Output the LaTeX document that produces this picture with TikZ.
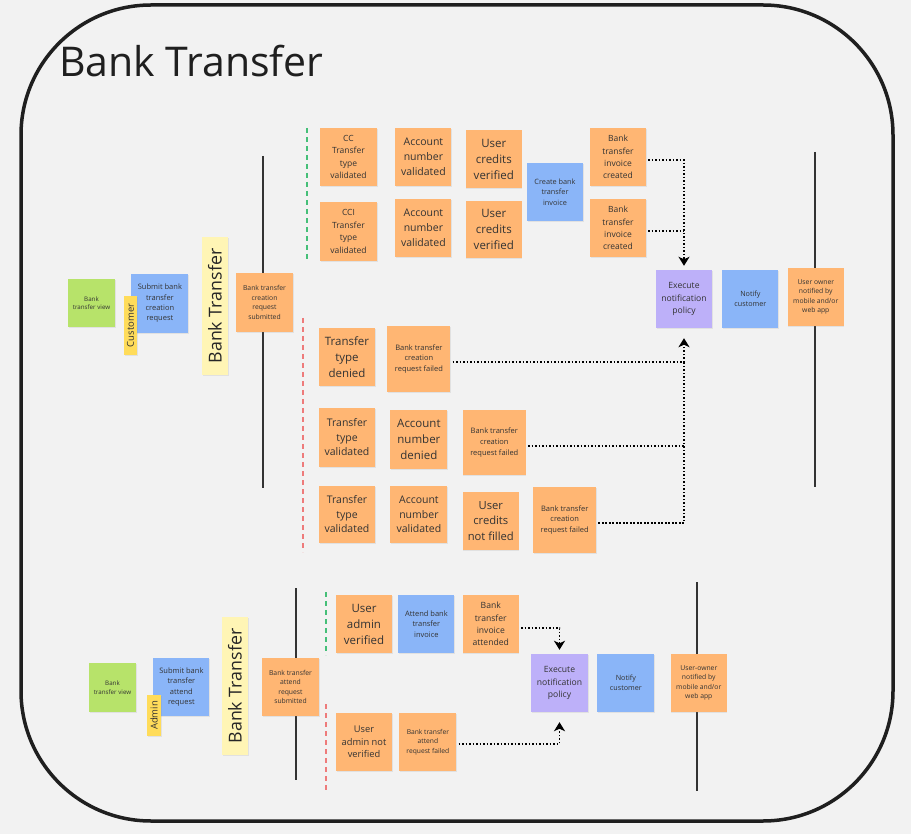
\documentclass[tikz,border=0pt]{standalone}
\usepackage{fontspec}
\setmainfont{Open Sans}
\usepackage{tikz}
\usetikzlibrary{positioning,arrows.meta,shadows}

\definecolor{boardgray}{HTML}{F2F2F2}
\definecolor{evtorange}{HTML}{FFB673}
\definecolor{cmdblue}{HTML}{8AB5F8}
\definecolor{polpurple}{HTML}{BDB0F9}
\definecolor{viewgreen}{HTML}{B7E36A}
\definecolor{actoryellow}{HTML}{FFDC5A}
\definecolor{ctxyellow}{HTML}{FFF5B5}
\definecolor{okgreen}{HTML}{45BF78}
\definecolor{failred}{HTML}{EE7B7B}
\definecolor{inkgray}{HTML}{333333}

\begin{document}
\begin{tikzpicture}[
    x=1pt, y=-1pt,
    sticky/.style={rectangle, inner sep=0pt, align=center, text=inkgray, minimum width=56pt, minimum height=58pt,
        drop shadow={shadow xshift=0.6pt, shadow yshift=-1.2pt, opacity=0.15}},
    event/.style={sticky, fill=evtorange},
    command/.style={sticky, fill=cmdblue},
    policy/.style={sticky, fill=polpurple},
    readmodel/.style={sticky, fill=viewgreen, minimum width=47pt, minimum height=48pt},
    actor/.style={sticky, fill=actoryellow, rotate=90, minimum height=13pt},
    context/.style={sticky, fill=ctxyellow, rotate=90, minimum width=138pt, minimum height=26pt, text=black!85},
    txt/.style 2 args={font=\fontsize{#1}{#2}\selectfont},
    timeline/.style={draw=black!80, line width=1.6pt},
    okline/.style={draw=okgreen, line width=1.2pt, dash pattern=on 5pt off 4pt},
    failline/.style={draw=failred, line width=1.2pt, dash pattern=on 5pt off 4pt},
    flowjoin/.style={draw=black, line width=1.8pt, dash pattern=on 1.6pt off 1.9pt},
    flow/.style={flowjoin, -{Stealth[length=9pt, width=11pt, inset=2.5pt]}}
]

% Board
\fill[boardgray] (0,0) rectangle (911,834);
\useasboundingbox (0,0) rectangle (911,834);
\draw[line width=3.5pt, draw=black!88, rounded corners=130pt] (21,5) rectangle (893,821);
\node[anchor=base west, inner sep=0pt, text=black!88, font=\fontsize{41}{49}\selectfont] (title) at (59,77) {Bank Transfer};

% Timelines and outcome separators
\draw[timeline] (263,156) -- (263,488);
\draw[timeline] (815,152) -- (815,487);
\draw[timeline] (296,588) -- (296,780);
\draw[timeline] (697,582) -- (697,791);
\draw[okline] (307,128) -- (307,262);
\draw[failline] (303,318) -- (303,552);
\draw[okline] (326,592) -- (326,655);
\draw[failline] (326,704) -- (326,792);

% Creation request
\node[readmodel, txt={6.2pt}{8.4pt}] (view1) at (91.5,303) {Bank\\transfer view};
\node[command, right=16pt of view1, yshift=-0.5pt, minimum width=57pt, minimum height=59pt, txt={7.5pt}{10.3pt}] (submit1) {Submit bank\\transfer\\creation\\request};
\node[actor, minimum width=59pt, txt={9.5pt}{11pt}] (cust) at (130.5,325.5) {Customer};
\node[context, txt={17.8pt}{20pt}] (band1) at (215,306) {Bank Transfer};
\node[event, minimum width=57pt, minimum height=59pt, txt={6.8pt}{9.5pt}] (subm1) at (264.5,302.5) {Bank transfer\\creation\\request\\submitted};

% Successful path
\node[event, minimum width=57pt, txt={8.5pt}{12.5pt}] (cc) at (348.5,157) {CC\\Transfer\\type\\validated};
\node[event, right=18pt of cc, txt={10.5pt}{15pt}] (acc1) {Account\\number\\validated};
\node[event, right=14pt of acc1, yshift=-2pt, txt={11.5pt}{16pt}] (cred1) {User\\credits\\verified};
\node[event, minimum width=57pt, minimum height=59pt, txt={8.5pt}{12.5pt}] (cci) at (348.5,231.5) {CCI\\Transfer\\type\\validated};
\node[event, right=18pt of cci, yshift=3.5pt, txt={10.5pt}{15pt}] (acc2) {Account\\number\\validated};
\node[event, right=14pt of acc2, yshift=-1.5pt, minimum height=57pt, txt={11.5pt}{16pt}] (cred2) {User\\credits\\verified};
\node[command, txt={7.3pt}{10.5pt}] (inv) at (555,192) {Create bank\\transfer\\invoice};
\node[event, txt={8.5pt}{12.3pt}] (crt1) at (618,157) {Bank\\transfer\\invoice\\created};
\node[event, txt={8.5pt}{12.3pt}] (crt2) at (618,228) {Bank\\transfer\\invoice\\created};

% Notification
\node[policy, txt={8.6pt}{12.3pt}] (exec1) at (684,299) {Execute\\notification\\policy};
\node[command, right=10pt of exec1, txt={7.2pt}{10.3pt}] (notif1) {Notify\\customer};
\node[event, right=9pt of notif1, yshift=2pt, txt={6.8pt}{9.5pt}] (owner1) {User owner\\notified by\\mobile and/or\\web app};

% Failed paths
\node[event, txt={11.5pt}{16pt}] (denied) at (347,357) {Transfer\\type\\denied};
\node[event, right=12pt of denied, yshift=-2pt, minimum width=63pt, minimum height=66pt, txt={7.5pt}{10.7pt}] (fail1) {Bank transfer\\creation\\request failed};
\node[event, minimum height=59pt, txt={10.5pt}{14.5pt}] (tv2) at (347,437.5) {Transfer\\type\\validated};
\node[event, right=15pt of tv2, yshift=-2pt, minimum width=57pt, minimum height=59pt, txt={11.5pt}{16pt}] (accden) {Account\\number\\denied};
\node[event, right=15pt of accden, yshift=-3pt, minimum width=63pt, minimum height=65pt, txt={7.5pt}{10.7pt}] (fail2) {Bank transfer\\creation\\request failed};
\node[event, minimum height=57pt, txt={10.5pt}{14.5pt}] (tv3) at (347,514.5) {Transfer\\type\\validated};
\node[event, right=15pt of tv3, minimum width=57pt, minimum height=57pt, txt={10.5pt}{14.5pt}] (acc3) {Account\\number\\validated};
\node[event, right=15pt of acc3, yshift=-6.5pt, txt={11.2pt}{15.5pt}] (cnf) {User\\credits\\not filled};
\node[event, right=14pt of cnf, yshift=1pt, minimum width=63pt, minimum height=66pt, txt={7.5pt}{10.7pt}] (fail3) {Bank transfer\\creation\\request failed};

% Creation flows
\draw[flow, shorten <=2pt, shorten >=4pt] ([yshift=-3pt]crt1.east) -| (exec1.north);
\draw[flowjoin, shorten <=2pt] ([yshift=-3pt]crt2.east) -- ([yshift=-3pt]crt2.east -| exec1.north);
\draw[flow, shorten <=2pt, shorten >=10pt] ([yshift=-3pt]fail1.east) -| (exec1.south);
\draw[flowjoin, shorten <=2pt] ([yshift=-3.5pt]fail2.east) -- ([yshift=-3.5pt]fail2.east -| exec1.south);
\draw[flowjoin, shorten <=2pt] ([yshift=-3pt]fail3.east) -| ([yshift=-3pt]fail1.east -| exec1.south);

% Attend request
\node[readmodel, minimum height=49pt, txt={6.2pt}{8.4pt}] (view2) at (112.5,687.5) {Bank\\transfer view};
\node[command, right=17pt of view2, yshift=0.5pt, txt={7.5pt}{10.3pt}] (submit2) {Submit bank\\transfer\\attend\\request};
\node[actor, minimum width=41pt, minimum height=14pt, txt={9.5pt}{11pt}] (admin) at (154,715.5) {Admin};
\node[context, txt={17.8pt}{20pt}] (band2) at (235,686) {Bank Transfer};
\node[event, minimum width=57pt, txt={6.8pt}{9.5pt}] (subm2) at (290.5,687) {Bank transfer\\attend\\request\\submitted};

\node[event, txt={11.5pt}{16pt}] (uav) at (364,624) {User\\admin\\verified};
\node[command, right=6pt of uav, txt={7.5pt}{10.3pt}] (att) {Attend bank\\transfer\\invoice};
\node[event, right=8pt of att, txt={8.6pt}{12.3pt}] (attd) {Bank\\transfer\\invoice\\attended};
\node[event, txt={9.3pt}{12.7pt}] (uanv) at (364,742) {User\\admin not\\verified};
\node[event, right=7pt of uanv, minimum width=57pt, txt={6.7pt}{9.7pt}] (afail) {Bank transfer\\attend\\request failed};

\node[policy, minimum width=57pt, txt={8.6pt}{12.3pt}] (exec2) at (559.5,683) {Execute\\notification\\policy};
\node[command, right=9pt of exec2, minimum width=57pt, txt={7.2pt}{10.3pt}] (notif2) {Notify\\customer};
\node[event, right=16pt of notif2, txt={6.8pt}{9.5pt}] (owner2) {User-owner\\notified by\\mobile and/or\\web app};

% Attend flows
\draw[flow, shorten <=2pt, shorten >=4pt] ([yshift=-4pt]attd.east) -| (exec2.north);
\draw[flow, shorten <=2pt, shorten >=10pt] ([yshift=-2pt]afail.east) -| (exec2.south);

\end{tikzpicture}
\end{document}
